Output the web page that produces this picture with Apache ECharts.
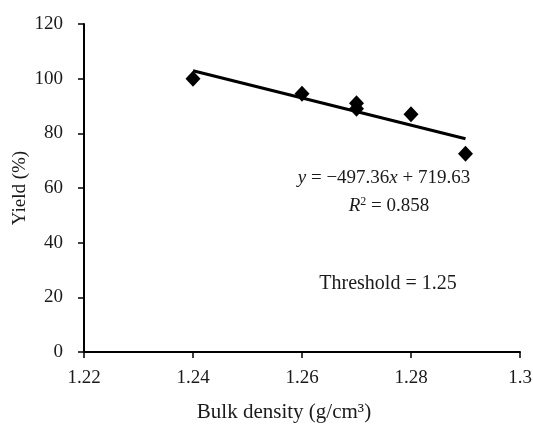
<!DOCTYPE html>
<html><head><meta charset="utf-8">
<script src="https://cdn.jsdelivr.net/npm/echarts@6/dist/echarts.min.js"></script>
<style>html,body{margin:0;padding:0;background:#fff}#c{width:533px;height:426px}</style>
</head><body><div id="c"></div>
<script>
var bulkDensity = [1.24, 1.26, 1.27, 1.27, 1.28, 1.29];
var yieldPct = [100, 94.5, 91, 89, 87, 72.5];
var trendX = [1.24, 1.29];
var trendY = [102.9, 78.0];
var xTicks = [1.22, 1.24, 1.26, 1.28, 1.3];
var yTicks = [0, 20, 40, 60, 80, 100, 120];

var F = 'Liberation Serif';
var TC = '#1a1a1a';
var FS = 19;
var chart = echarts.init(document.getElementById('c'));
chart.setOption({
  animation: false,
  backgroundColor: '#fff',
  textStyle: {fontFamily: F},
  grid: {left: 84, right: 13, top: 24, bottom: 74, containLabel: false, outerBoundsMode: 'none'},
  xAxis: {
    type: 'value', min: xTicks[0], max: xTicks[xTicks.length - 1], interval: 0.02,
    name: 'Bulk density (g/cm³)', nameLocation: 'middle', nameGap: 50, nameMoveOverlap: false,
    nameTextStyle: {fontFamily: F, fontSize: 21, color: TC, padding: [0, 36, 0, 0]},
    axisLine: {lineStyle: {color: '#000', width: 2}},
    axisTick: {show: true, length: 6, lineStyle: {color: '#000', width: 1.5}},
    axisLabel: {fontFamily: F, fontSize: FS, color: TC, margin: 17,
      formatter: function (v) { return String(+v.toFixed(2)); }},
    splitLine: {show: false}
  },
  yAxis: {
    type: 'value', min: yTicks[0], max: yTicks[yTicks.length - 1], interval: 20,
    name: 'Yield (%)', nameLocation: 'middle', nameGap: 54, nameRotate: 90, nameMoveOverlap: false,
    nameTextStyle: {fontFamily: F, fontSize: 19, color: TC},
    axisLine: {show: true, lineStyle: {color: '#000', width: 2}},
    axisTick: {show: true, length: 6, lineStyle: {color: '#000', width: 1.5}},
    axisLabel: {fontFamily: F, fontSize: FS, color: TC, margin: 21},
    splitLine: {show: false}
  },
  series: [
    {
      type: 'line', data: trendX.map(function (x, i) { return [x, trendY[i]]; }),
      showSymbol: false, symbol: 'none',
      lineStyle: {color: '#000', width: 3}, z: 2
    },
    {
      type: 'scatter', data: bulkDensity.map(function (x, i) { return [x, yieldPct[i]]; }),
      symbol: 'diamond', symbolSize: [15, 16],
      itemStyle: {color: '#000', opacity: 1}, z: 3
    }
  ],
  graphic: [
    {type: 'text', x: 384, y: 178, style: {
      text: '{i|y} = −497.36{i|x} + 719.63', fontFamily: F, fontSize: FS, fill: TC,
      align: 'center', verticalAlign: 'middle',
      rich: {i: {fontStyle: 'italic', fontFamily: F, fontSize: FS, fill: TC}}
    }},
    {type: 'text', x: 389, y: 206, style: {
      text: '{i|R}{s|2} = 0.858', fontFamily: F, fontSize: FS, fill: TC,
      align: 'center', verticalAlign: 'middle',
      rich: {i: {fontStyle: 'italic', fontFamily: F, fontSize: FS, fill: TC},
             s: {fontFamily: F, fontSize: 12, fill: TC, verticalAlign: 'top', padding: [0,0,8,0]}}
    }},
    {type: 'text', x: 388, y: 284, style: {
      text: 'Threshold = 1.25', fontFamily: F, fontSize: 20, fill: TC,
      align: 'center', verticalAlign: 'middle'
    }}
  ]
});
</script></body></html>
